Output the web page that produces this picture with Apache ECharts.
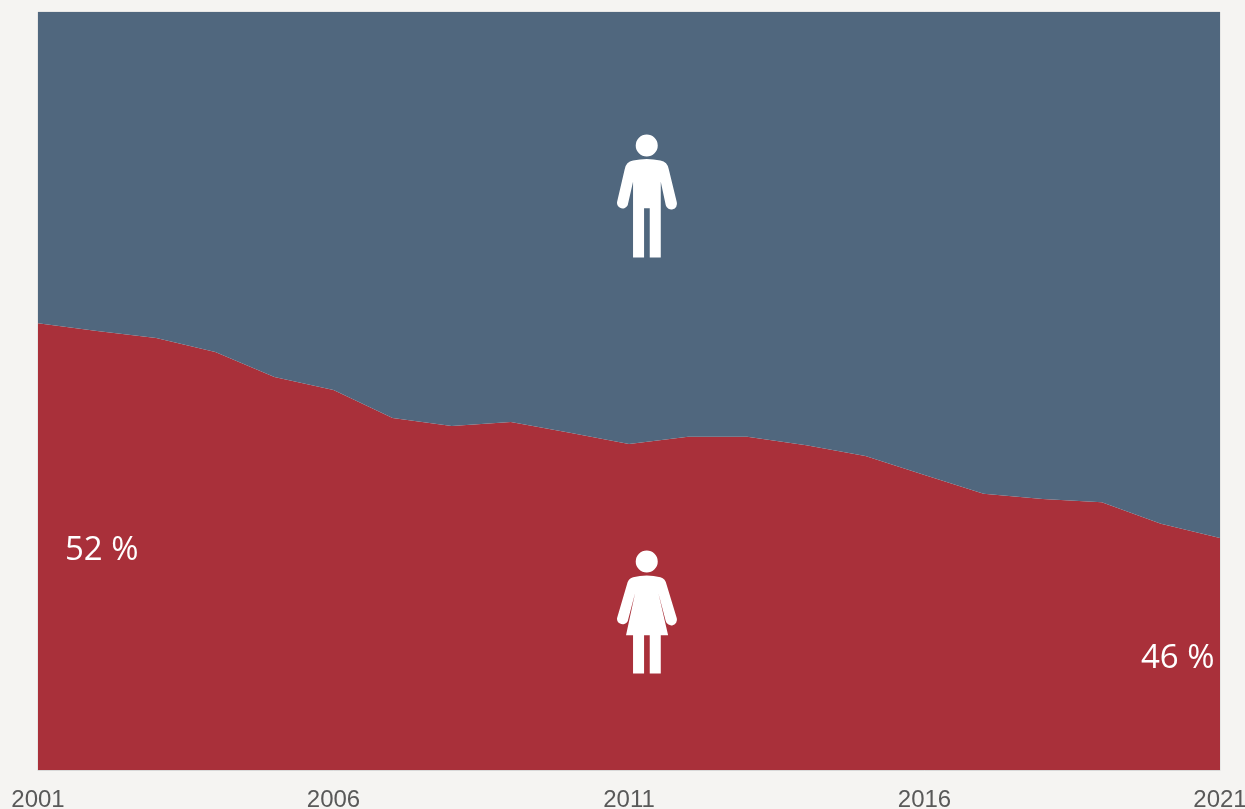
<!DOCTYPE html>
<html>
<head>
<meta charset="utf-8">
<style>
  html, body { margin: 0; padding: 0; background: #f5f4f2; }
  #main { width: 1245px; height: 809px; }
</style>
<script src="https://cdn.jsdelivr.net/npm/echarts@6/dist/echarts.min.js"></script>
</head>
<body>
<div id="main"></div>
<script>
const years = ['2001', '2002', '2003', '2004', '2005', '2006', '2007', '2008', '2009', '2010', '2011',
  '2012', '2013', '2014', '2015', '2016', '2017', '2018', '2019', '2020', '2021']
// share of women
const women = [52.38, 52.16, 51.97, 51.58, 50.89, 50.53, 49.75, 49.53, 49.64, 49.34, 49.03,
  49.23, 49.23, 49.0, 48.7, 48.17, 47.65, 47.51, 47.42, 46.82, 46.43]
const men = [47.62, 47.84, 48.03, 48.42, 49.11, 49.47, 50.25, 50.47, 50.36, 50.66, 50.97,
  50.77, 50.77, 51.0, 51.3, 51.83, 52.35, 52.49, 52.58, 53.18, 53.57]
const firstLabel = '52 %'
const lastLabel = '46 %'

const blue = '#50677e'
const red = '#a9303a'

// pictograms as symbol paths, scaled by symbolSize
const manPath = 'path://M141 44A33 33 0 1 1 141 110A33 33 0 1 1 141 44Z' +
  'M100 122Q141 112 182 122Q203 126 207 148L231 247A17 17 0 0 1 198 256L183 185L183 412L150 412L150 265L133 265L133 412L100 412L100 185L84 256A17 17 0 0 1 52 247L75 148Q79 126 100 122Z'
const womanPath = 'path://M141 44A33 33 0 1 1 141 110A33 33 0 1 1 141 44Z' +
  'M100 124Q141 114 182 124Q197 127 201 148L231 247A17 17 0 0 1 198 256L176 172L205 298L183 298L183 413L150 413L150 298L133 298L133 413L100 413L100 298L79 298L106 172L84 256A17 17 0 0 1 52 247L81 148Q85 127 100 124Z'

const chart = echarts.init(document.getElementById('main'))

const areaSeries = (name, data, color, icon, iconY) => ({
  name,
  type: 'line',
  stack: 'share',
  data,
  showSymbol: false,
  silent: true,
  lineStyle: { width: 0 },
  areaStyle: { color, opacity: 1 },
  markPoint: {
    silent: true,
    symbol: icon,
    symbolSize: [60, 123],
    itemStyle: { color: '#fff' },
    label: { show: false },
    data: [{ x: 647, y: iconY }]
  }
})

chart.setOption({
  animation: false,
  backgroundColor: '#f5f4f2',
  grid: {
    left: 38,
    right: 25,
    top: 12,
    bottom: 39,
    outerBoundsMode: 'none', // keep the plot edges where they are, the end labels may overhang
    show: true,
    backgroundColor: 'transparent',
    borderColor: '#d9d9d9',
    borderWidth: 1
  },
  xAxis: {
    type: 'category',
    data: years,
    boundaryGap: false,
    axisTick: { show: false },
    axisLine: { lineStyle: { color: '#d9d9d9', width: 1 } },
    axisLabel: {
      interval: 4,
      color: '#595959',
      fontFamily: '"Liberation Sans", Arial, sans-serif',
      fontSize: 24,
      margin: 18,
      showMinLabel: true,
      showMaxLabel: true,
      hideOverlap: false
    }
  },
  yAxis: {
    type: 'value',
    min: 40,
    max: 61,
    show: false,
    splitLine: { show: false }
  },
  series: [
    areaSeries('Women', women, red, womanPath, 612),
    areaSeries('Men', men, blue, manPath, 196)
  ],
  graphic: [
    {
      type: 'text',
      left: 65,
      top: 534,
      z: 10,
      style: { text: firstLabel, fill: '#fff', font: '33px "Open Sans", sans-serif' }
    },
    {
      type: 'text',
      left: 1141,
      top: 642,
      z: 10,
      style: { text: lastLabel, fill: '#fff', font: '33px "Open Sans", sans-serif' }
    }
  ]
})
</script>
</body>
</html>
